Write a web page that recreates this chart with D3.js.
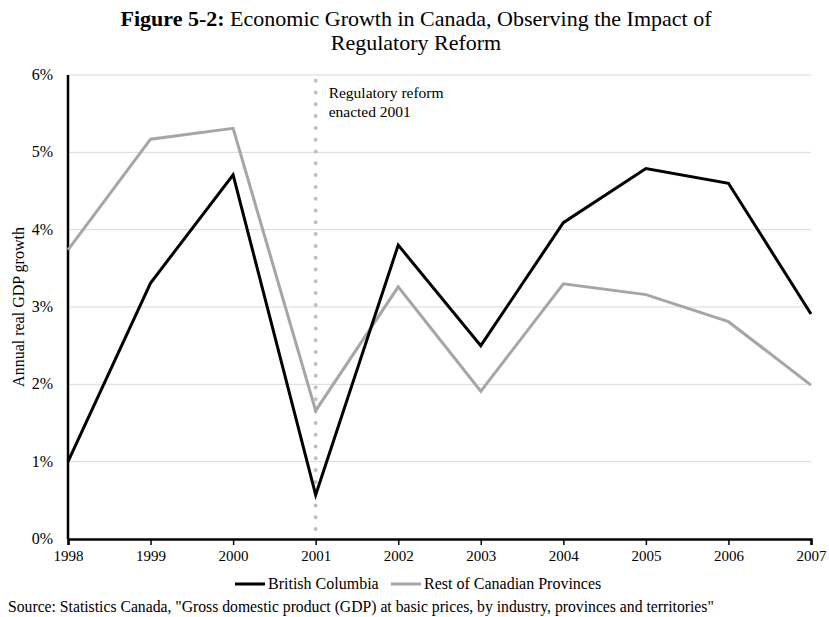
<!DOCTYPE html>
<html>
<head>
<meta charset="utf-8">
<script src="https://cdn.jsdelivr.net/npm/d3@7"></script>
<style>
  body { margin: 0; background: #fff; }
  text { font-family: "Liberation Serif", "Times New Roman", serif; fill: #000; }
</style>
</head>
<body>
<div id="chart"></div>
<script>
// --- data ---
const years = [1998, 1999, 2000, 2001, 2002, 2003, 2004, 2005, 2006, 2007];
const bcGrowth = [1.00, 3.31, 4.71, 0.57, 3.80, 2.50, 4.09, 4.79, 4.60, 2.91];
const restGrowth = [3.74, 5.17, 5.31, 1.66, 3.26, 1.91, 3.30, 3.16, 2.81, 1.99];
const yTicks = [0, 1, 2, 3, 4, 5, 6];
const reformYear = 2001;

const W = 829, H = 617;
const margin = { top: 75, right: 18, bottom: 78, left: 68 };
const width = W - margin.left - margin.right;
const height = H - margin.top - margin.bottom;

const svg = d3.select("#chart").append("svg")
    .attr("width", W).attr("height", H);

// title
const title = svg.append("text")
    .attr("x", 416).attr("y", 26)
    .attr("text-anchor", "middle")
    .style("font-size", "22px");
title.append("tspan").style("font-weight", "bold").text("Figure 5-2:");
title.append("tspan").text(" Economic Growth in Canada, Observing the Impact of");
svg.append("text")
    .attr("x", 416).attr("y", 50)
    .attr("text-anchor", "middle")
    .style("font-size", "22px")
    .text("Regulatory Reform");

const g = svg.append("g").attr("transform", `translate(${margin.left},${margin.top})`);

const x = d3.scaleLinear().domain([1998, 2007]).range([0, width]);
const y = d3.scaleLinear().domain([0, 6]).range([height, 0]);

// gridlines
g.selectAll(".grid").data(yTicks.filter(d => d > 0)).enter()
    .append("line")
    .attr("x1", 0).attr("x2", width)
    .attr("y1", d => y(d)).attr("y2", d => y(d))
    .attr("stroke", "#d9d9d9").attr("stroke-width", 1);

// y tick labels
g.selectAll(".ylab").data(yTicks).enter()
    .append("text")
    .attr("x", -15).attr("y", d => y(d) + 5)
    .attr("text-anchor", "end")
    .style("font-size", "16px")
    .text(d => d + "%");

// y axis title
svg.append("text")
    .attr("transform", `translate(24,${margin.top + height / 2}) rotate(-90)`)
    .attr("text-anchor", "middle")
    .style("font-size", "16px")
    .text("Annual real GDP growth");

// x axis
const xAxis = g.append("g")
    .attr("transform", `translate(0,${height})`)
    .call(d3.axisBottom(x).tickValues(years).tickFormat(d3.format("d")).tickSize(6).tickPadding(5));
xAxis.select(".domain").attr("stroke", "#000").attr("stroke-width", 2.5);
xAxis.selectAll(".tick line").attr("stroke", "#000").attr("stroke-width", 1.5);
xAxis.selectAll(".tick text")
    .style("font-family", '"Liberation Serif", "Times New Roman", serif')
    .style("font-size", "15px").attr("fill", "#000");

// y axis line
g.append("line")
    .attr("x1", 0).attr("x2", 0).attr("y1", 0).attr("y2", height)
    .attr("stroke", "#000").attr("stroke-width", 2.5);

// reform marker
g.append("line")
    .attr("x1", x(reformYear)).attr("x2", x(reformYear))
    .attr("y1", 5.7).attr("y2", height - 8)
    .attr("stroke", "#bfbfbf").attr("stroke-width", 4)
    .attr("stroke-linecap", "round")
    .attr("stroke-dasharray", "0 11.8");

g.append("text")
    .attr("x", x(reformYear) + 13).attr("y", 22.5)
    .style("font-size", "15.5px")
    .text("Regulatory reform");
g.append("text")
    .attr("x", x(reformYear) + 13).attr("y", 42)
    .style("font-size", "15.5px")
    .text("enacted 2001");

// lines
const line = d3.line().x((d, i) => x(years[i])).y(d => y(d));
g.append("path").datum(restGrowth)
    .attr("d", line).attr("fill", "none")
    .attr("stroke", "#a6a6a6").attr("stroke-width", 3);
g.append("path").datum(bcGrowth)
    .attr("d", line).attr("fill", "none")
    .attr("stroke", "#000").attr("stroke-width", 3);

// legend
const legend = svg.append("g").attr("transform", "translate(0,584)");
const items = [
    { label: "British Columbia", color: "#000", x: 235 },
    { label: "Rest of Canadian Provinces", color: "#a6a6a6", x: 391 }
];
items.forEach(it => {
    legend.append("line")
        .attr("x1", it.x).attr("x2", it.x + 30)
        .attr("y1", 0).attr("y2", 0)
        .attr("stroke", it.color).attr("stroke-width", 3);
    legend.append("text")
        .attr("x", it.x + 33).attr("y", 5)
        .style("font-size", "16px")
        .text(it.label);
});

// source
svg.append("text")
    .attr("x", 8).attr("y", 612)
    .style("font-size", "15.7px")
    .text('Source: Statistics Canada, "Gross domestic product (GDP) at basic prices, by industry, provinces and territories"');
</script>
</body>
</html>
